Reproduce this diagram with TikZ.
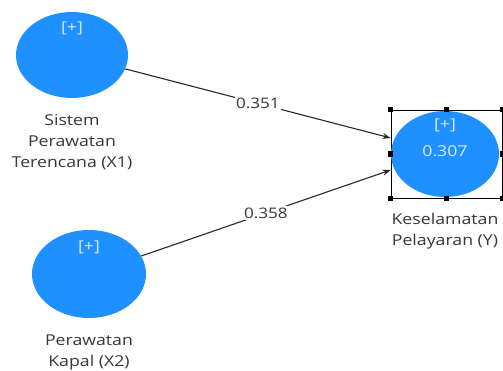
\documentclass[tikz,border=0pt]{standalone}
\usepackage{fontspec}
\setmainfont[FakeStretch=1.18]{Open Sans}
\usetikzlibrary{positioning, shapes.geometric, arrows.meta}
\definecolor{lvblue}{RGB}{30,144,255}
\definecolor{lvtext}{RGB}{215,234,255}
\definecolor{captext}{RGB}{55,55,55}
\definecolor{pathline}{RGB}{40,40,40}
\begin{document}
\begin{tikzpicture}[x=1pt, y=-1pt, >={Stealth[length=8pt, width=6pt]},
    latent/.style={ellipse, fill=lvblue, inner sep=0pt},
    inside/.style={text=lvtext, font=\fontsize{15}{17}\selectfont, inner sep=0pt},
    caption/.style={align=center, text=captext, font=\fontsize{15}{21}\selectfont, inner sep=0pt},
    relation/.style={->, line width=1.1pt, draw=pathline},
    coef/.style={fill=white, text=captext, font=\fontsize{14.5}{16}\selectfont, inner sep=1.5pt},
    selbox/.style={draw=black, line width=0.9pt, minimum width=111pt, minimum height=88pt, inner sep=0pt},
    handle/.style={fill=black, minimum size=5.5pt, inner sep=0pt}]
    \useasboundingbox (0,0) rectangle (503,370);

    \node[latent, minimum width=112pt, minimum height=86pt] (x1) at (72,55) {};
    \node[latent, minimum width=114pt, minimum height=88pt] (x2) at (89,274) {};
    \node[selbox] (sel) at (446.5,154) {};
    \node[latent, minimum width=108pt, minimum height=86pt] (y) at (445,154) {};
    \foreach \a [count=\i] in {north west, north, north east, west, east, south west, south, south east}
        \node[handle] (h\i) at (sel.\a) {};

    \node[inside] (x1p) at (72,28) {[+]};
    \node[inside] (x2p) at (89,247) {[+]};
    \node[inside] (yp) at (445,125) {[+]};
    \node[inside] (yr) at (445,151) {0.307};

    \node[caption, below=16pt of x1] (x1lbl) {Sistem\\Perawatan\\Terencana (X1)};
    \node[caption, below=16pt of x2] (x2lbl) {Perawatan\\Kapal (X2)};
    \node[caption, below=16pt of y] (ylbl) {Keselamatan\\Pelayaran (Y)};

    \draw[relation] (x1) -- (sel.164) node[midway, coef] {0.351};
    \draw[relation] (x2) -- (sel.196) node[midway, coef] {0.358};
\end{tikzpicture}
\end{document}
